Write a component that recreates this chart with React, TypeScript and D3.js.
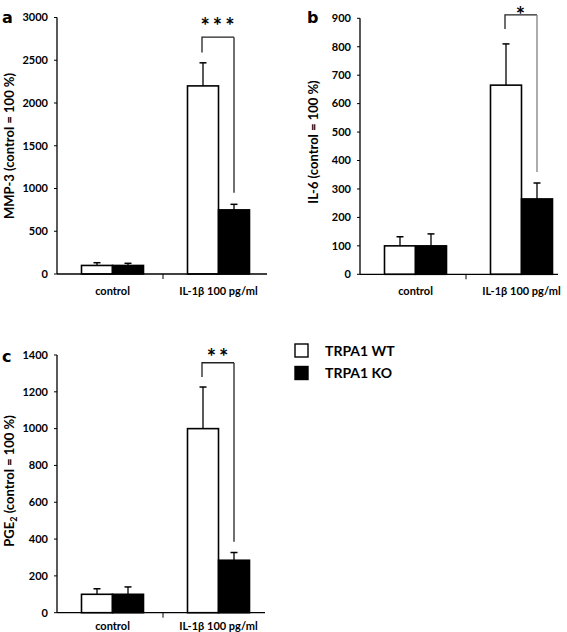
import React from "react";
import * as d3 from "d3";

const groups = ["control", "IL-1β 100 pg/ml"];
const seriesNames = ["TRPA1 WT", "TRPA1 KO"];

// panel a: MMP-3
const mmpWT = [100, 2200];
const mmpWTErr = [132, 2470];
const mmpKO = [100, 750];
const mmpKOErr = [125, 815];
const mmpTicks = [0, 500, 1000, 1500, 2000, 2500, 3000];
const mmpBracket = [2770, 2590, 950]; // top, left leg end, right leg end

// panel b: IL-6
const il6WT = [100, 665];
const il6WTErr = [132, 810];
const il6KO = [100, 265];
const il6KOErr = [142, 321];
const il6Ticks = [0, 100, 200, 300, 400, 500, 600, 700, 800, 900];
const il6Bracket = [912, 862, 360];

// panel c: PGE2
const pgeWT = [100, 1000];
const pgeWTErr = [130, 1226];
const pgeKO = [100, 285];
const pgeKOErr = [140, 327];
const pgeTicks = [0, 200, 400, 600, 800, 1000, 1200, 1400];
const pgeBracket = [1358, 1280, 386];

const FONT = "Lato, 'Open Sans', sans-serif";

type PanelProps = {
  letter: string;
  ylabel: React.ReactNode;
  wt: number[];
  wtErr: number[];
  ko: number[];
  koErr: number[];
  ticks: number[];
  bracket: number[];
  stars: string;
  axisX: number;
  axisRight: number;
  top: number;
  bottom: number;
  labelX: number;
  labelY: number;
  letterX: number;
  letterY: number;
  starY: number;
  xLabelDy: number;
  rightLegColor: string;
};

function Panel(p: PanelProps) {
  const ymax = p.ticks[p.ticks.length - 1];
  const y = d3.scaleLinear().domain([0, ymax]).range([p.bottom, p.top]);
  const x = d3.scaleBand().domain(groups).range([p.axisX, p.axisX + 212]).paddingInner(0);
  const barW = 31;
  const shift = 2.5;
  const midTick = x(groups[1])!;
  const bars: React.ReactNode[] = [];
  groups.forEach((g, i) => {
    const c = x(g)! + x.bandwidth() / 2 + shift;
    const sets = [
      { v: p.wt[i], e: p.wtErr[i], fill: "#fff", x0: c - barW },
      { v: p.ko[i], e: p.koErr[i], fill: "#000", x0: c },
    ];
    sets.forEach((s, j) => {
      const cx = s.x0 + barW / 2;
      bars.push(
        <g key={`${i}-${j}`}>
          <line x1={cx} x2={cx} y1={y(s.v)} y2={y(s.e)} stroke="#000" strokeWidth={1.3} />
          <line x1={cx - 3.5} x2={cx + 3.5} y1={y(s.e)} y2={y(s.e)} stroke="#000" strokeWidth={1.5} />
          <rect x={s.x0} y={y(s.v)} width={barW} height={p.bottom - y(s.v)} fill={s.fill} stroke="#000" strokeWidth={1.6} />
        </g>
      );
    });
  });
  const c1 = x(groups[1])! + x.bandwidth() / 2 + shift;
  const lx = c1 - barW / 2 - 1;
  const rx = c1 + barW / 2;
  return (
    <g fontFamily={FONT}>
      <text x={p.letterX} y={p.letterY} fontSize={16} fontWeight={900} fontFamily="'DejaVu Sans', sans-serif">{p.letter}</text>
      {p.ticks.map((t) => (
        <g key={t}>
          <line x1={p.axisX - 3} x2={p.axisX} y1={y(t)} y2={y(t)} stroke="#000" strokeWidth={1} />
          <text x={p.axisX - 9} y={y(t)} dy="0.35em" textAnchor="end" fontSize={11} fontWeight={700}>{t}</text>
        </g>
      ))}
      <line x1={p.axisX} x2={p.axisX} y1={p.top} y2={p.bottom} stroke="#000" strokeWidth={1.3} />
      {bars}
      <line x1={p.axisX} x2={p.axisRight} y1={p.bottom} y2={p.bottom} stroke="#000" strokeWidth={1.3} />
      <line x1={midTick} x2={midTick} y1={p.bottom} y2={p.bottom + 5} stroke="#000" strokeWidth={1} />
      {groups.map((g) => (
        <text key={g} x={x(g)! + x.bandwidth() / 2 + shift} y={p.bottom + p.xLabelDy} textAnchor="middle" fontSize={11} fontWeight={700}>{g}</text>
      ))}
      <text transform={`translate(${p.labelX},${p.labelY}) rotate(-90)`} textAnchor="middle" fontSize={13} fontWeight={700}>{p.ylabel}</text>
      <path d={`M${lx},${y(p.bracket[1])}V${y(p.bracket[0])}H${rx}`} fill="none" stroke="#222" strokeWidth={1.3} />
      <line x1={rx} x2={rx} y1={y(p.bracket[0])} y2={y(p.bracket[2])} stroke={p.rightLegColor} strokeWidth={1.3} />
      <text x={(lx + rx) / 2 + 1} y={p.starY} textAnchor="middle" fontSize={22} fontWeight={700} letterSpacing={3}>{p.stars}</text>
    </g>
  );
}

export default function App() {
  return (
    <svg width={567} height={632} style={{ position: "absolute", left: 0, top: 0, background: "#fff" }}>
      <Panel letter="a" ylabel="MMP-3 (control = 100 %)" wt={mmpWT} wtErr={mmpWTErr} ko={mmpKO} koErr={mmpKOErr}
        ticks={mmpTicks} bracket={mmpBracket} stars="***" axisX={57} axisRight={267} top={17.5} bottom={274}
        labelX={13.5} labelY={146} letterX={2} letterY={23} starY={34} xLabelDy={21} rightLegColor="#222" />
      <Panel letter="b" ylabel="IL-6 (control = 100 %)" wt={il6WT} wtErr={il6WTErr} ko={il6KO} koErr={il6KOErr}
        ticks={il6Ticks} bracket={il6Bracket} stars="*" axisX={360} axisRight={558} top={18.3} bottom={274.3}
        labelX={318} labelY={142} letterX={307} letterY={23} starY={23} xLabelDy={21} rightLegColor="#808080" />
      <Panel letter="c" ylabel={<>PGE<tspan fontSize={9} dy={3}>2</tspan><tspan dy={-3}> (control = 100 %)</tspan></>}
        wt={pgeWT} wtErr={pgeWTErr} ko={pgeKO} koErr={pgeKOErr}
        ticks={pgeTicks} bracket={pgeBracket} stars="**" axisX={57} axisRight={265} top={355} bottom={612.7}
        labelX={13.5} labelY={481} letterX={2} letterY={362} starY={365} xLabelDy={17} rightLegColor="#222" />
      <g fontFamily={FONT}>
        {seriesNames.map((s, i) => (
          <g key={s}>
            <rect x={295} y={344 + i * 22.5} width={13} height={13} fill={i === 0 ? "#fff" : "#000"} stroke="#000" strokeWidth={1.4} />
            <text x={325} y={351 + i * 22.5} dy="0.35em" fontSize={14} fontWeight={700}>{s}</text>
          </g>
        ))}
      </g>
    </svg>
  );
}
